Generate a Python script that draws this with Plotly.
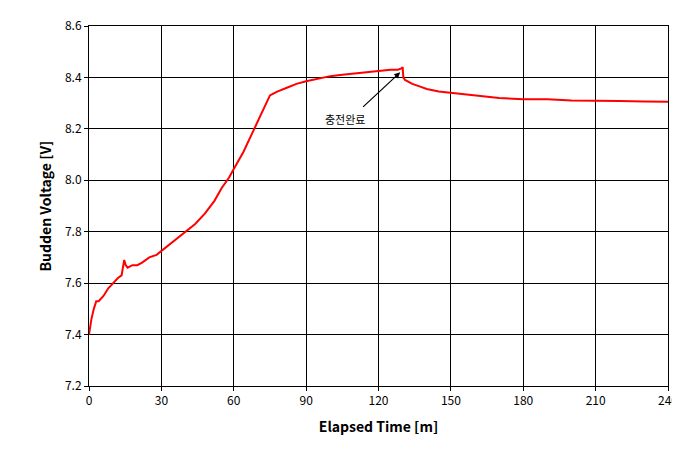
import plotly.graph_objects as go

# elapsed time [m] and voltage [V]
time_m = [0, 0.5, 1, 2, 3, 4, 6, 8, 10, 12, 13.5, 14.2, 14.6, 15.2, 16, 18, 20, 22, 25, 28, 32, 36, 40, 44,
          48, 52, 55, 58, 61, 64, 68, 71, 74, 75, 76, 78, 82, 86, 90, 95, 100, 105, 110, 115, 120, 125,
          128, 129.5, 130, 130.3, 131, 134, 137, 140, 145, 150, 160, 170, 180, 190, 200, 210, 220, 230, 240]
volt = [7.40, 7.43, 7.46, 7.50, 7.53, 7.53, 7.55, 7.58, 7.60, 7.62, 7.63, 7.66, 7.69, 7.67, 7.66, 7.67, 7.67,
        7.68, 7.70, 7.71, 7.74, 7.77, 7.80, 7.83, 7.87, 7.92, 7.97, 8.01, 8.06, 8.11, 8.19, 8.25, 8.31, 8.33,
        8.335, 8.345, 8.36, 8.375, 8.385, 8.395, 8.405, 8.41, 8.415, 8.42, 8.425, 8.43, 8.43, 8.435, 8.44,
        8.40, 8.39, 8.375, 8.365, 8.355, 8.345, 8.34, 8.33, 8.32, 8.315, 8.315, 8.31, 8.31, 8.308, 8.306, 8.305]

x_ticks = [0, 30, 60, 90, 120, 150, 180, 210, 240]
y_ticks = [7.2, 7.4, 7.6, 7.8, 8.0, 8.2, 8.4, 8.6]

fig = go.Figure()
fig.add_trace(go.Scatter(x=time_m, y=volt, mode='lines', line=dict(color='#ff0000', width=2)))

# arrow and label placed separately
fig.add_annotation(x=129, y=8.42, ax=113, ay=8.28, xref='x', yref='y', axref='x', ayref='y',
                   text='', showarrow=True, arrowhead=2, arrowsize=1, arrowwidth=1.2, arrowcolor='black')
fig.add_annotation(x=106, y=8.24, xref='x', yref='y', text='충전완료', showarrow=False,
                   font=dict(family='Noto Sans CJK KR', size=11, color='black'))

axis = dict(showline=True, linecolor='black', linewidth=1, mirror=True, showgrid=True,
            gridcolor='black', gridwidth=1, ticks='outside', ticklen=4, tickcolor='black',
            zeroline=False, automargin=False,
            tickfont=dict(family='Noto Sans CJK KR', size=12, color='black'))
fig.update_xaxes(range=[0, 240], tickvals=x_ticks, ticktext=[str(v) for v in x_ticks],
                 title=dict(text='<b>Elapsed Time [m]</b>', font=dict(family='Noto Sans CJK KR', size=14, color='black'),
                            standoff=14), **axis)
fig.update_yaxes(range=[7.2, 8.6], tickvals=y_ticks, ticktext=['%.1f' % v for v in y_ticks],
                 title=dict(text='<b>Budden Voltage [V]</b>', font=dict(family='Noto Sans CJK KR', size=14, color='black'),
                            standoff=10), **axis)

fig.update_layout(width=680, height=455, showlegend=False, plot_bgcolor='white', paper_bgcolor='white',
                  margin=dict(l=81, r=20, t=18, b=77, autoexpand=False))
fig.write_html("out.html")
